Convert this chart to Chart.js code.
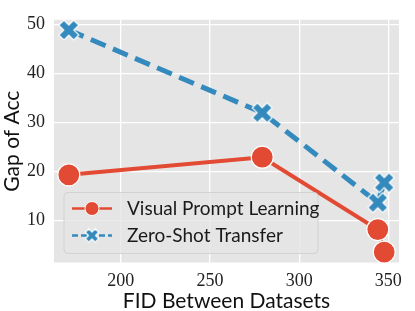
<!DOCTYPE html>
<html>
<head>
<meta charset="utf-8">
<script src="https://cdn.jsdelivr.net/npm/chart.js@4/dist/chart.umd.min.js"></script>
<style>
  html, body { margin: 0; padding: 0; background: #fff; }
  #wrap { width: 415px; height: 311px; }
</style>
</head>
<body>
<div id="wrap"><canvas id="chart" width="415" height="311"></canvas></div>
<script>
// data
const fidValues = [170.8, 279.3, 344.1, 347.7];
const vplGap = [19.3, 22.9, 8.1, 3.5];
const zstGap = [48.9, 32.0, 13.6, 17.7];
const xTicks = [200, 250, 300, 350];
const yTicks = [10, 20, 30, 40, 50];
const seriesNames = ['Visual Prompt Learning', 'Zero-Shot Transfer'];

const RED = '#E24A33';
const BLUE = '#348ABD';
const SANS = 'Lato';
const SERIF = 'Liberation Serif';

// filled "X" marker like matplotlib's 'X'
function makeXMarker(size, armLen, armHalf, color) {
    const c = document.createElement('canvas');
    c.width = c.height = size;
    const g = c.getContext('2d');
    const L = armLen, w = armHalf;
    const pts = [[-w,-L],[w,-L],[w,-w],[L,-w],[L,w],[w,w],[w,L],[-w,L],[-w,w],[-L,w],[-L,-w],[-w,-w]];
    g.translate(size / 2, size / 2);
    g.rotate(Math.PI / 4);
    g.beginPath();
    pts.forEach((p, i) => i ? g.lineTo(p[0], p[1]) : g.moveTo(p[0], p[1]));
    g.closePath();
    g.fillStyle = color;
    g.fill();
    g.strokeStyle = '#fff';
    g.lineWidth = 1.2;
    g.stroke();
    return c;
}

const xMarker = makeXMarker(28, 10.5, 3.6, BLUE);
const xMarkerSmall = makeXMarker(20, 7, 2.5, BLUE);

const toPoints = (xs, ys) => xs.map((x, i) => ({ x: x, y: ys[i] }));

const plotBackground = {
    id: 'plotBackground',
    beforeDraw(chart) {
        const { ctx, chartArea: a } = chart;
        ctx.save();
        ctx.fillStyle = '#E5E5E5';
        ctx.fillRect(a.left, a.top, a.right - a.left, a.bottom - a.top);
        ctx.restore();
    }
};

// legend inside the plot, lower left
const innerLegend = {
    id: 'innerLegend',
    afterDatasetsDraw(chart) {
        const { ctx, chartArea: a } = chart;
        const x = a.left + 10, w = 254, h = 61;
        const y = a.bottom - 9 - h;
        ctx.save();
        ctx.beginPath();
        ctx.roundRect(x, y, w, h, 4);
        ctx.fillStyle = 'rgba(229,229,229,0.8)';
        ctx.fill();
        ctx.strokeStyle = '#d2d2d2';
        ctx.lineWidth = 1;
        ctx.stroke();

        const rows = [y + 16, y + 43];
        const x0 = x + 8, x1 = x + 48, xm = (x0 + x1) / 2;
        // row 1: red solid line + circle
        ctx.strokeStyle = RED;
        ctx.lineWidth = 2.5;
        ctx.beginPath(); ctx.moveTo(x0, rows[0]); ctx.lineTo(x1, rows[0]); ctx.stroke();
        ctx.beginPath(); ctx.arc(xm, rows[0], 7, 0, Math.PI * 2);
        ctx.fillStyle = RED; ctx.fill();
        ctx.strokeStyle = '#fff'; ctx.lineWidth = 1; ctx.stroke();
        // row 2: blue dashed line + X
        ctx.strokeStyle = BLUE;
        ctx.lineWidth = 2.5;
        ctx.setLineDash([6, 3]);
        ctx.beginPath(); ctx.moveTo(x0, rows[1]); ctx.lineTo(x1, rows[1]); ctx.stroke();
        ctx.setLineDash([]);
        ctx.drawImage(xMarkerSmall, xm - 10, rows[1] - 10);

        ctx.fillStyle = '#1a1a1a';
        ctx.font = '19px ' + SANS;
        ctx.textBaseline = 'middle';
        ctx.fillText(seriesNames[0], x + 63, rows[0]);
        ctx.fillText(seriesNames[1], x + 63, rows[1]);
        ctx.restore();
    }
};

new Chart(document.getElementById('chart'), {
    type: 'line',
    data: {
        datasets: [{
            label: seriesNames[0],
            data: toPoints(fidValues, vplGap),
            borderColor: RED,
            backgroundColor: RED,
            borderWidth: 4,
            pointRadius: 11,
            pointBorderColor: '#fff',
            pointBorderWidth: 1.2,
            pointHoverRadius: 11,
            clip: false
        }, {
            label: seriesNames[1],
            data: toPoints(fidValues, zstGap),
            borderColor: BLUE,
            backgroundColor: BLUE,
            borderWidth: 5,
            borderDash: [16, 8],
            pointStyle: xMarker,
            pointRadius: 11,
            clip: false
        }]
    },
    options: {
        responsive: false,
        animation: false,
        layout: { padding: { top: 16, right: 9, left: 0, bottom: 0 } },
        plugins: { legend: { display: false }, tooltip: { enabled: false } },
        scales: {
            x: {
                type: 'linear',
                min: 162.5,
                max: 356,
                afterBuildTicks: s => { s.ticks = xTicks.map(v => ({ value: v })); },
                afterFit: s => { s.height = 48.5; },
                grid: { color: '#fff', lineWidth: 1.3, drawTicks: false },
                border: { display: false },
                ticks: { color: '#222', padding: 8, minRotation: 0, maxRotation: 0, autoSkip: false, font: { family: SERIF, size: 18 } },
                title: { display: true, text: 'FID Between Datasets', color: '#111', padding: { top: 0, bottom: -3 }, font: { family: SANS, size: 21 } }
            },
            y: {
                min: 1.36,
                max: 51,
                afterBuildTicks: s => { s.ticks = yTicks.map(v => ({ value: v })); },
                afterFit: s => { s.width = 54; },
                grid: { color: '#fff', lineWidth: 1.3, drawTicks: false },
                border: { display: false },
                ticks: { color: '#222', padding: 9, font: { family: SERIF, size: 18 } },
                title: { display: true, text: 'Gap of Acc', color: '#111', padding: { top: 0, bottom: 2 }, font: { family: SANS, size: 21 } }
            }
        }
    },
    plugins: [plotBackground, innerLegend]
});
</script>
</body>
</html>
